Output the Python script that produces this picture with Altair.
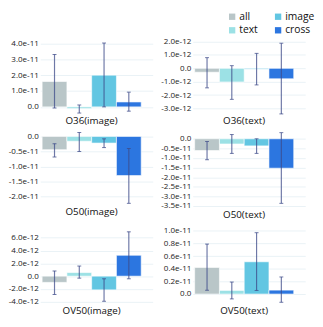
import altair as alt
import pandas as pd

# x order of the bars (also the legend order, legend is filled column by column)
cats = ["all", "text", "image", "cross"]
cat_colors = ["#b9c6c8", "#9ce1e5", "#62c6e2", "#2c76e0"]

panels = ["O36(image)", "O36(text)", "O50(image)", "O50(text)", "OV50(image)", "OV50(text)"]
exponents = [-11, -12, -11, -11, -12, -11]

# bar values (in units of 10^exponent), order: all, text, image, cross
bar_vals = [
    [1.60, -0.11, 2.00, 0.31],
    [-0.29, -1.02, -0.06, -0.78],
    [-0.44, -0.16, -0.22, -1.30],
    [-0.61, -0.27, -0.37, -1.53],
    [-0.97, 0.56, -2.14, 3.26],
    [0.42, 0.057, 0.51, 0.062],
]
err_lo = [
    [-0.07, -0.39, 0.00, -0.27],
    [-1.46, -2.32, -1.24, -3.41],
    [-0.68, -0.50, -0.37, -2.22],
    [-1.09, -0.76, -0.76, -3.36],
    [-2.85, -0.31, -3.92, -0.41],
    [0.06, -0.077, 0.057, -0.13],
]
err_hi = [
    [3.31, 0.12, 4.03, 0.93],
    [0.80, 0.20, 1.12, 1.88],
    [-0.24, 0.13, -0.08, -0.40],
    [-0.14, 0.22, 0.00, 0.32],
    [0.81, 1.58, -0.41, 6.92],
    [0.79, 0.19, 0.97, 0.27],
]
tick_vals = [
    [0, 1, 2, 3, 4],
    [-3, -2, -1, 0, 1, 2],
    [-2.0, -1.5, -1.0, -0.5, 0],
    [-3.5, -3.0, -2.5, -2.0, -1.5, -1.0, -0.5, 0],
    [-4, -2, 0, 2, 4, 6],
    [0, 0.2, 0.4, 0.6, 0.8, 1.0],
]
domains = [
    [-0.52, 4.17],
    [-3.50, 2.06],
    [-2.31, 0.156],
    [-3.50, 0.367],
    [-4.47, 7.13],
    [-0.17, 1.005],
]

FONT = "Open Sans"
ERR = "#3d4b8a"


def panel(i):
    u = 10.0 ** exponents[i]
    df = pd.DataFrame({
        "cat": cats,
        "val": [v * u for v in bar_vals[i]],
        "lo": [v * u for v in err_lo[i]],
        "hi": [v * u for v in err_hi[i]],
    })
    p = -exponents[i]
    label_expr = (
        "abs(datum.value) < 1e-20 ? '0.0' : "
        f"(datum.value < 0 ? '-' : '') + format(abs(datum.value) * 1e{p}, '.1f') + 'e-{p}'"
    )
    xenc = alt.X("cat:N", sort=cats, axis=None,
                 scale=alt.Scale(paddingInner=0, paddingOuter=0.27, align=0.14))
    yscale = alt.Scale(domain=[d * u for d in domains[i]], nice=False, zero=False)
    yaxis = alt.Axis(values=[t * u for t in tick_vals[i]], labelExpr=label_expr, title=None,
                     domain=False, ticks=False, grid=True, gridColor="#eaf2f6",
                     labelPadding=2, labelFontSize=8.2, labelFont=FONT, labelColor="#222")
    bars = alt.Chart(df).mark_bar(stroke="white", strokeWidth=1, strokeOpacity=0.6).encode(
        x=xenc,
        y=alt.Y("val:Q", scale=yscale, axis=yaxis),
        y2=alt.datum(0),
        color=alt.Color("cat:N", scale=alt.Scale(domain=cats, range=cat_colors),
                        legend=alt.Legend(title=None, orient="none", legendX=191, legendY=-30,
                                          offset=0, padding=0, values=cats,
                                          columns=2, symbolType="square", symbolSize=42,
                                          symbolStrokeWidth=0, labelFont=FONT, labelFontSize=10.5,
                                          labelColor="#111", labelOffset=2, columnPadding=15,
                                          rowPadding=3)),
    )
    rules = alt.Chart(df).mark_rule(color=ERR, opacity=0.75, strokeWidth=1.2).encode(
        x=alt.X("cat:N", sort=cats, axis=None), y=alt.Y("lo:Q", scale=yscale, axis=yaxis),
        y2="hi:Q")
    cap_lo = alt.Chart(df).mark_tick(color=ERR, opacity=0.75, thickness=1, size=4).encode(
        x=alt.X("cat:N", sort=cats, axis=None), y=alt.Y("lo:Q", scale=yscale, axis=yaxis))
    cap_hi = alt.Chart(df).mark_tick(color=ERR, opacity=0.75, thickness=1, size=4).encode(
        x=alt.X("cat:N", sort=cats, axis=None), y=alt.Y("hi:Q", scale=yscale, axis=yaxis))
    return alt.layer(bars, rules, cap_lo, cap_hi).properties(
        width=115, height=76,
        title=alt.TitleParams(panels[i], orient="bottom", frame="group", offset=1, dx=-5,
                              fontSize=10, font=FONT, fontWeight="normal", color="#111"),
    )


chart = alt.concat(*[panel(i) for i in range(6)], columns=2,
                   spacing={"row": 5, "column": 8}).properties(
    padding={"left": 0, "top": 0, "right": 0, "bottom": 0}
).configure_view(stroke=None)

chart.save("out.html", embed_options={"renderer": "svg", "actions": False})
